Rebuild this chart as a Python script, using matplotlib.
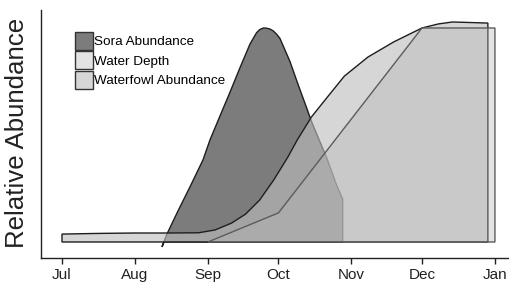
import matplotlib
matplotlib.use("Agg")
import matplotlib.pyplot as plt
from matplotlib.patches import Polygon, Patch

plt.rcParams['font.family'] = ['Liberation Sans', 'DejaVu Sans']

# Days since Jul 1
month_ticks = [0, 31, 62, 92, 123, 153, 184]
month_labels = ["Jul", "Aug", "Sep", "Oct", "Nov", "Dec", "Jan"]

sora_days = [43.3, 42.5, 44.6, 48.9, 54.5, 59.9, 62.9, 67.0, 71.4, 75.6, 79.9, 82.7, 84.1, 85.6, 87.0,
             88.4, 89.8, 91.2, 92.6, 96.9, 100.4, 104.0, 106.1, 112.5, 116.7, 119.3, 119.3]
sora_vals = [0.0, -0.023, 0.037, 0.136, 0.26, 0.383, 0.477, 0.585, 0.70, 0.813, 0.925, 0.978, 0.993, 1.0, 0.999,
             0.995, 0.986, 0.971, 0.952, 0.843, 0.734, 0.626, 0.561, 0.393, 0.266, 0.2, 0.0]

fowl_days = [0, 0, 15, 31, 46, 58, 65, 72, 78, 84, 90, 96, 100, 106, 113, 120, 130, 141, 153, 160, 166, 181, 181]
fowl_vals = [0, 0.037, 0.040, 0.042, 0.042, 0.043, 0.056, 0.088, 0.13, 0.196, 0.29, 0.397, 0.477, 0.584,
             0.68, 0.775, 0.864, 0.935, 1.0, 1.019, 1.028, 1.023, 0]

water_days = [62, 92, 153, 184, 184]
water_vals = [0, 0.136, 1.0, 1.0, 0]

series_names = ["Sora Abundance", "Water Depth", "Waterfowl Abundance"]

sora_face = (124/255, 124/255, 124/255, 1.0)
fowl_face = (189/255, 189/255, 189/255, 0.62)
water_face = (183/255, 183/255, 183/255, 0.39)

fig = plt.figure(figsize=(5.10, 2.83), dpi=100)
ax = fig.add_axes([41/510, 25/283, 1 - 41/510, (258 - 10)/283])

lw = 1.0
ax.add_patch(Polygon(list(zip(sora_days, sora_vals)), closed=True,
                     facecolor=sora_face, edgecolor='#1e1e1e', linewidth=lw, zorder=2))
ax.add_patch(Polygon(list(zip(fowl_days, fowl_vals)), closed=True,
                     facecolor=fowl_face, edgecolor='#1e1e1e', linewidth=lw, zorder=3))
ax.add_patch(Polygon(list(zip(water_days, water_vals)), closed=True,
                     facecolor=water_face, edgecolor='#5c5c5c', linewidth=lw, zorder=4))

ax.set_xlim(-8.92, 190.4)
ax.set_ylim(-0.0748, 1.084)

for s in ['top', 'right']:
    ax.spines[s].set_visible(False)
for s in ['left', 'bottom']:
    ax.spines[s].set_color('#222222')
    ax.spines[s].set_linewidth(1.0)

ax.set_xticks(month_ticks)
ax.set_xticklabels(month_labels, fontsize=11, color='#222222')
ax.tick_params(axis='x', direction='out', length=4, width=1.0, color='#222222', pad=3)
ax.set_yticks([])

fig.text(17/510, 1 - 133/283, "Relative Abundance", rotation=90, ha='center', va='center',
         fontsize=18.6, color='#222222')

handles = [Patch(facecolor=sora_face, edgecolor='#333333', linewidth=1.0),
           Patch(facecolor=water_face, edgecolor='#333333', linewidth=1.0),
           Patch(facecolor=fowl_face, edgecolor='#333333', linewidth=1.0)]
fs = 9.7
ax.legend(handles, series_names, loc='upper left', bbox_to_anchor=(75/510, 1 - 32/283),
          bbox_transform=fig.transFigure, frameon=False, borderpad=0, borderaxespad=0,
          fontsize=fs, handlelength=1.34, handleheight=1.68, labelspacing=0.1,
          handletextpad=0.1)

fig.savefig("out.png", dpi=100)
